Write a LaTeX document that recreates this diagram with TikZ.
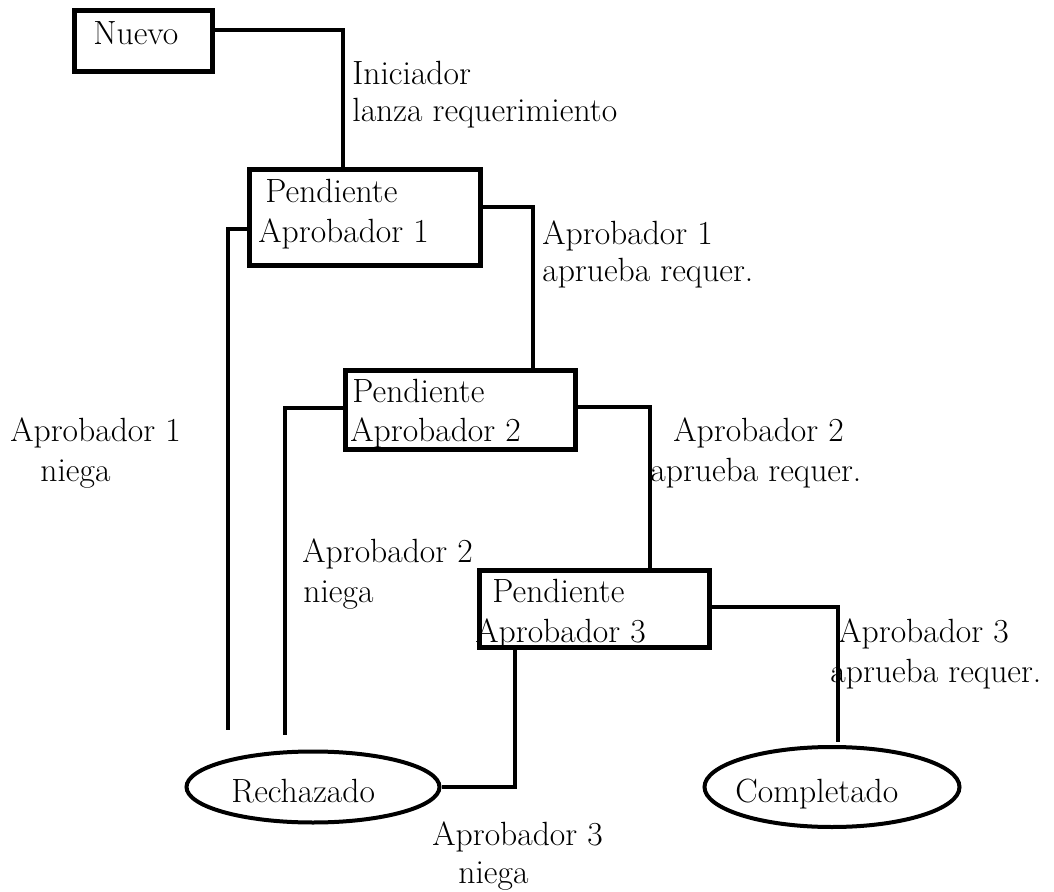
\documentclass[tikz,border=0pt]{standalone}
\usetikzlibrary{shapes.geometric}
\begin{document}
\begin{tikzpicture}[x=0.5pt,y=-0.5pt,
  txt/.style={inner sep=0pt,anchor=base west,font=\fontsize{16.8}{20}\selectfont},
  statebox/.style={draw,line width=2.7pt,inner sep=0pt,anchor=north west},
  endstate/.style={draw,ellipse,line width=2pt,inner sep=0pt},
  link/.style={line width=2.2pt}]
\useasboundingbox (0,0) rectangle (1054,892);

% state boxes (drawn empty, captions placed separately)
\node[statebox,minimum width=69pt,minimum height=30.5pt] (nuevo) at (72,8) {};
\node[statebox,minimum width=115.5pt,minimum height=48pt] (p1) at (247,167) {};
\node[statebox,minimum width=115pt,minimum height=39.5pt] (p2) at (343,368) {};
\node[statebox,minimum width=115pt,minimum height=38.5pt] (p3) at (477,568) {};

% final states
\node[endstate,minimum width=126.5pt,minimum height=35.5pt] (rech) at (313,787) {};
\node[endstate,minimum width=127.5pt,minimum height=40pt] (comp) at (832,787) {};

% captions of the states
\node[txt] (tnuevo) at (93,45) {Nuevo};
\node[txt] (tp1a) at (265,203) {Pendiente};
\node[txt] (tp1b) at (258,243) {Aprobador 1};
\node[txt] (tp2a) at (352,403) {Pendiente};
\node[txt] (tp2b) at (350,442) {Aprobador 2};
\node[txt] (tp3a) at (492,602) {Pendiente};
\node[txt] (tp3b) at (475,642) {Aprobador 3};
\node[txt] (trech) at (231,802) {Rechazado};
\node[txt] (tcomp) at (735,802) {Completado};

% transition labels
\node[txt] (l1a) at (352,85) {Iniciador};
\node[txt] (l1b) at (352,122) {lanza requerimiento};
\node[txt] (l2a) at (542,245) {Aprobador 1};
\node[txt] (l2b) at (542,282) {aprueba requer.};
\node[txt] (l3a) at (10,442) {Aprobador 1};
\node[txt] (l3b) at (40,482) {niega};
\node[txt] (l4a) at (673,442) {Aprobador 2};
\node[txt] (l4b) at (650,482) {aprueba requer.};
\node[txt] (l5a) at (302,562) {Aprobador 2};
\node[txt] (l5b) at (303,602) {niega};
\node[txt] (l6a) at (838,642) {Aprobador 3};
\node[txt] (l6b) at (830,682) {aprueba requer.};
\node[txt] (l7a) at (432,845) {Aprobador 3};
\node[txt] (l7b) at (458,883) {niega};

% loose ends of the transitions that stop short of their target
\coordinate (e1) at (228,730);
\coordinate (e2) at (285,735);
\coordinate (e3) at (838,742);

% transitions
\draw[link] (nuevo.east |- 0,30) -| (p1.north -| 343,0);
\draw[link] (p1.east |- 0,207) -| (p2.north -| 533,0);
\draw[link] (p1.west |- 0,229) -| (e1);
\draw[link] (p2.east |- 0,407) -| (p3.north -| 650,0);
\draw[link] (p2.west |- 0,408) -| (e2);
\draw[link] (p3.east |- 0,607) -| (e3);
\draw[link] (p3.south -| 515,0) |- (rech.east);
\end{tikzpicture}
\end{document}
